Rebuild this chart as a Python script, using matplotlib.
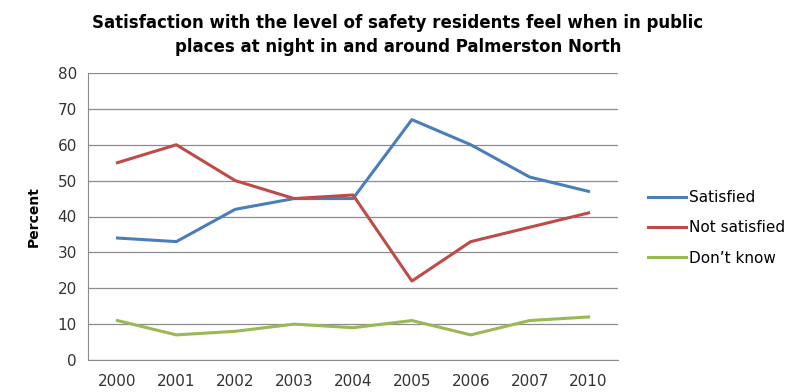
import matplotlib.pyplot as plt
import numpy as np

years = ['2000', '2001', '2002', '2003', '2004', '2005', '2006', '2007', '2010']
satisfied = [34, 33, 42, 45, 45, 67, 60, 51, 47]
not_satisfied = [55, 60, 50, 45, 46, 22, 33, 37, 41]
dont_know = [11, 7, 8, 10, 9, 11, 7, 11, 12]

fig = plt.figure(figsize=(7.96, 3.92), dpi=100)
ax = fig.add_axes([88 / 796, 1 - 360 / 392, (618 - 88) / 796, (360 - 73) / 392])

x = np.arange(len(years))
ax.plot(x, satisfied, color='#4A7EBB', lw=2.2, label='Satisfied')
ax.plot(x, not_satisfied, color='#BE4B48', lw=2.2, label='Not satisfied')
ax.plot(x, dont_know, color='#98B954', lw=2.2, label='Don\u2019t know')

ax.set_xlim(-0.5, len(years) - 0.5)
ax.set_ylim(0, 80)
ax.set_yticks(range(0, 81, 10))
ax.set_xticks(x)
ax.set_xticklabels(years)
ax.tick_params(length=0, labelsize=11, colors='#333333', pad=8)
ax.tick_params(axis='x', pad=10)
ax.grid(axis='y', color='#8c8c8c', lw=0.9)
ax.set_axisbelow(True)
for s in ['top', 'right']:
    ax.spines[s].set_visible(False)
for s in ['left', 'bottom']:
    ax.spines[s].set_color('#8c8c8c')

ax.set_ylabel('Percent', fontsize=10, fontweight='bold', labelpad=12)

fig.text(0.5, 0.965, 'Satisfaction with the level of safety residents feel when in public\n'
         'places at night in and around Palmerston North',
         ha='center', va='top', fontsize=12, fontweight='bold', linespacing=1.45)

ax.legend(loc='center left', bbox_to_anchor=(1.03, 0.46), frameon=False,
          fontsize=11, handlelength=2.5, handletextpad=0.2, labelspacing=1.0)

fig.savefig('out.png')
